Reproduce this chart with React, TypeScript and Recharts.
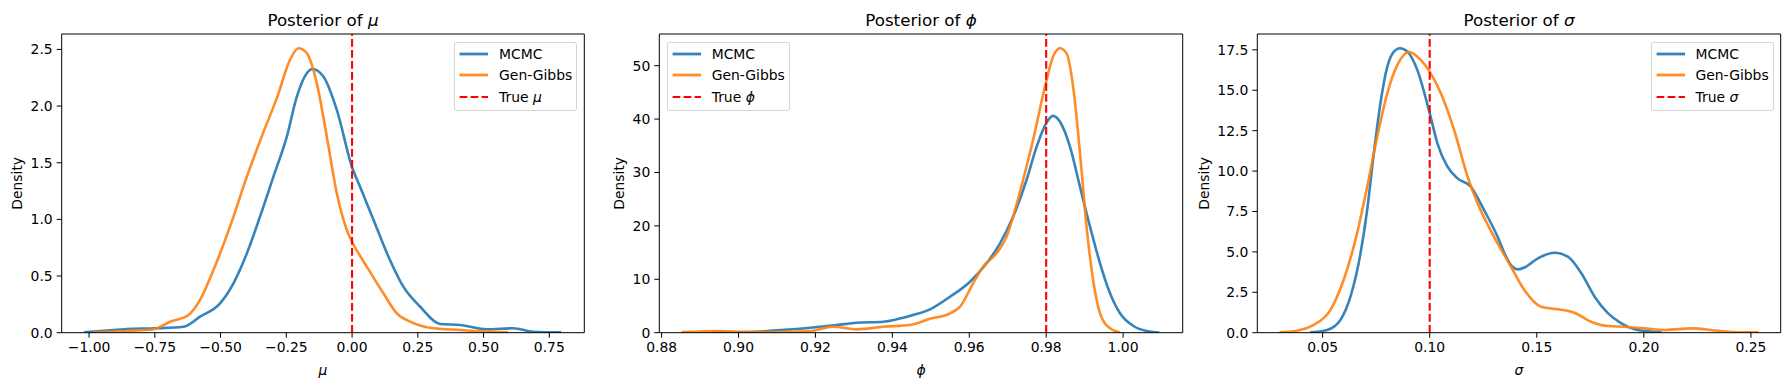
import React from "react";
import { LineChart, Line, XAxis, YAxis, ReferenceLine, Legend } from "recharts";

const FONT = "'DejaVu Sans', sans-serif";
const BLUE = "#1f77b4";
const ORANGE = "#ff7f0e";
const RED = "#ff0000";

const seriesNames = ["MCMC", "Gen-Gibbs"];

// posterior of mu
const muMcmc = [
	[-1.019, 0.003], [-0.93, 0.02], [-0.857, 0.033], [-0.743, 0.039], [-0.641, 0.053],
	[-0.578, 0.141], [-0.502, 0.259], [-0.451, 0.436], [-0.4, 0.7], [-0.35, 1.024],
	[-0.299, 1.377], [-0.248, 1.73], [-0.21, 2.083], [-0.172, 2.29], [-0.151, 2.327],
	[-0.109, 2.26], [-0.058, 1.966], [0, 1.46], [0.03, 1.29], [0.081, 1.0],
	[0.144, 0.642], [0.195, 0.406], [0.259, 0.229], [0.335, 0.077], [0.411, 0.068],
	[0.512, 0.03], [0.613, 0.039], [0.689, 0.009], [0.795, 0.003],
];
const muGibbs = [
	[-0.984, 0.003], [-0.857, 0.015], [-0.755, 0.03], [-0.692, 0.097], [-0.622, 0.156],
	[-0.578, 0.289], [-0.527, 0.553], [-0.464, 0.936], [-0.4, 1.377], [-0.337, 1.77],
	[-0.286, 2.07], [-0.236, 2.407], [-0.204, 2.51], [-0.172, 2.466], [-0.134, 2.2],
	[-0.096, 1.73], [-0.058, 1.23], [-0.02, 0.906], [0, 0.8], [0.03, 0.68],
	[0.056, 0.583], [0.119, 0.348], [0.17, 0.171], [0.221, 0.097], [0.309, 0.039],
	[0.411, 0.024], [0.512, 0.01], [0.594, 0.003],
];

// posterior of phi
const phiMcmc = [
	[0.893, 0.1], [0.9047, 0.19], [0.9108, 0.5], [0.9186, 0.94], [0.9255, 1.44],
	[0.9307, 1.87], [0.9376, 2.06], [0.9411, 2.5], [0.9454, 3.31], [0.9498, 4.38],
	[0.955, 6.74], [0.9602, 9.55], [0.9645, 13.0], [0.968, 16.74], [0.9714, 21.7],
	[0.9749, 28.6], [0.9775, 34.8], [0.98, 39.2], [0.9817, 40.6], [0.9836, 39.5],
	[0.9862, 34.8], [0.9888, 27.3], [0.9914, 19.85], [0.994, 13.0], [0.9966, 7.38],
	[0.9992, 3.63], [1.0027, 1.25], [1.0061, 0.32], [1.0094, 0.05],
];
const phiGibbs = [
	[0.8852, 0.1], [0.8952, 0.32], [0.9004, 0.1], [0.9108, 0.1], [0.9186, 0.3],
	[0.9246, 1.12], [0.9307, 0.63], [0.9376, 1.12], [0.9446, 1.44], [0.9498, 2.6],
	[0.955, 3.63], [0.9576, 4.87], [0.961, 9.25], [0.9636, 12.36], [0.9671, 14.87],
	[0.9697, 17.98], [0.9714, 21.7], [0.974, 28.6], [0.9766, 36.1], [0.9799, 46.7],
	[0.9818, 51.7], [0.9836, 53.26], [0.9853, 52.3], [0.987, 46.1], [0.9888, 33.6],
	[0.9905, 19.85], [0.9922, 9.87], [0.994, 3.63], [0.9966, 0.82], [0.9992, 0.05],
];

// posterior of sigma
const sigmaMcmc = [
	[0.0442, 0.02], [0.0521, 0.17], [0.0583, 0.79], [0.063, 2.23], [0.0677, 4.91],
	[0.0708, 7.59], [0.0739, 11.1], [0.077, 14.2], [0.0802, 16.46], [0.0833, 17.39],
	[0.0861, 17.6], [0.0896, 17.39], [0.0942, 16.26], [0.1, 13.58], [0.1036, 11.72],
	[0.1083, 10.27], [0.113, 9.55], [0.1192, 9.03], [0.1254, 7.59], [0.1317, 5.94],
	[0.1355, 4.75], [0.1385, 4.1], [0.1414, 3.92], [0.1445, 4.05], [0.1505, 4.6],
	[0.1583, 4.95], [0.1645, 4.7], [0.1708, 3.68], [0.177, 2.23], [0.1833, 1.2],
	[0.1895, 0.58], [0.1957, 0.21], [0.202, 0.08], [0.2082, 0.02],
];
const sigmaGibbs = [
	[0.0299, 0.02], [0.038, 0.12], [0.0458, 0.48], [0.0536, 1.4], [0.0598, 3.26],
	[0.0661, 6.15], [0.0708, 9.03], [0.0755, 12.13], [0.0802, 14.81], [0.0849, 16.57],
	[0.0903, 17.37], [0.0958, 16.88], [0.1, 16.15], [0.1052, 14.81], [0.1114, 12.54],
	[0.1177, 9.65], [0.1224, 8.0], [0.1286, 6.3], [0.138, 4.08], [0.1442, 2.64],
	[0.152, 1.61], [0.1598, 1.45], [0.1676, 1.24], [0.1754, 0.68], [0.1833, 0.41],
	[0.1911, 0.37], [0.2004, 0.27], [0.2098, 0.17], [0.2223, 0.27], [0.2348, 0.12],
	[0.2442, 0.03], [0.2536, 0.02],
];

const trueValues = [0.0, 0.98, 0.1];

const muXTicks = [-1.0, -0.75, -0.5, -0.25, 0.0, 0.25, 0.5, 0.75];
const muYTicks = [0, 0.5, 1.0, 1.5, 2.0, 2.5];
const phiXTicks = [0.88, 0.9, 0.92, 0.94, 0.96, 0.98, 1.0];
const phiYTicks = [0, 10, 20, 30, 40, 50];
const sigmaXTicks = [0.05, 0.1, 0.15, 0.2, 0.25];
const sigmaYTicks = [0, 2.5, 5.0, 7.5, 10.0, 12.5, 15.0, 17.5];

const toRows = (pts: number[][]) => pts.map(([x, y]) => ({ x, y }));
const fmt = (digits: number) => (v: number) =>
	v.toFixed(digits).replace("-", "\u2212");

const PLOT_TOP = 34;
const PLOT_BOTTOM = 332.7;
const CH = 390;

function AxisText({ x, y, rotate, children }: any) {
	return (
		<text
			x={x}
			y={y}
			textAnchor="middle"
			dominantBaseline="central"
			transform={rotate ? `rotate(-90, ${x}, ${y})` : undefined}
			fontFamily={FONT}
			fontSize={13.9}
			fill="#000"
		>
			{children}
		</text>
	);
}

function LegendBox({ symbol }: { symbol: string }) {
	const rows = [
		{ label: seriesNames[0], color: BLUE, dash: undefined, top: 11.6 },
		{ label: seriesNames[1], color: ORANGE, dash: undefined, top: 32.8 },
		{ label: "True", color: RED, dash: "7.7 3.3", top: 54.6 },
	];
	return (
		<div
			style={{
				position: "relative",
				width: 123,
				height: 69,
				boxSizing: "border-box",
				border: "1px solid rgba(204,204,204,0.8)",
				borderRadius: 3,
				background: "rgba(255,255,255,0.8)",
				fontFamily: FONT,
				fontSize: 13.9,
				color: "#000",
			}}
		>
			{rows.map((r, i) => (
				<div
					key={i}
					style={{
						position: "absolute",
						left: 0,
						top: r.top - 9,
						height: 18,
						display: "flex",
						alignItems: "center",
						whiteSpace: "nowrap",
					}}
				>
					<svg width={44} height={18} style={{ display: "block" }}>
						<line
							x1={4.6}
							x2={33}
							y1={9}
							y2={9}
							stroke={r.color}
							strokeWidth={r.dash ? 2.1 : 2.8}
							strokeOpacity={r.dash ? 1 : 0.9}
							strokeDasharray={r.dash}
						/>
					</svg>
					<span style={{ lineHeight: "18px" }}>
						{r.label}
						{r.dash ? (
							<>
								{" "}
								<i>{symbol}</i>
							</>
						) : null}
					</span>
				</div>
			))}
		</div>
	);
}

type PanelProps = {
	left: number;
	width: number;
	plotLeft: number;
	plotRight: number;
	symbol: string;
	truth: number;
	xDomain: number[];
	yDomain: number[];
	xTicks: number[];
	yTicks: number[];
	xDigits: number;
	yDigits: number;
	mcmc: number[][];
	gibbs: number[][];
	legendLeft: boolean;
	densityDx: number;
};

function Panel(p: PanelProps) {
	const yw = 55;
	const xh = 50;
	const margin = {
		top: PLOT_TOP,
		right: p.width - p.plotRight,
		bottom: CH - PLOT_BOTTOM - xh,
		left: p.plotLeft - yw,
	};
	const legendX = p.legendLeft ? p.plotLeft + 7.4 : p.plotRight - 7.2 - 123;
	const midY = (PLOT_TOP + PLOT_BOTTOM) / 2;
	const midX = (p.plotLeft + p.plotRight) / 2;
	const tickStyle = { fill: "#000", fontSize: 13.9, fontFamily: FONT };

	return (
		<div style={{ position: "absolute", left: p.left, top: 0, width: p.width, height: CH }}>
			<div
				style={{
					position: "absolute",
					left: p.plotLeft - 50,
					width: p.plotRight - p.plotLeft + 100,
					top: 10,
					height: 20,
					lineHeight: "20px",
					textAlign: "center",
					fontFamily: FONT,
					fontSize: 16.7,
					color: "#000",
				}}
			>
				Posterior of <i>{p.symbol}</i>
			</div>
			<LineChart width={p.width} height={CH} margin={margin}>
				<XAxis
					dataKey="x"
					type="number"
					domain={p.xDomain}
					allowDataOverflow
					ticks={p.xTicks}
					interval={0}
					tickFormatter={fmt(p.xDigits)}
					tickSize={5}
					tickMargin={4}
					height={xh}
					stroke="#000"
					tick={tickStyle}
					label={{
						content: () => (
							<AxisText x={midX} y={370}>
								<tspan fontStyle="italic">{p.symbol}</tspan>
							</AxisText>
						),
					}}
				/>
				<YAxis
					type="number"
					domain={p.yDomain}
					allowDataOverflow
					ticks={p.yTicks}
					interval={0}
					tickFormatter={fmt(p.yDigits)}
					tickSize={5}
					tickMargin={4}
					width={yw}
					stroke="#000"
					tick={tickStyle}
					label={{
						content: () => (
							<AxisText x={p.plotLeft + p.densityDx} y={midY} rotate>
								Density
							</AxisText>
						),
					}}
				/>
				<Line
					data={toRows(p.mcmc)}
					dataKey="y"
					name={seriesNames[0]}
					type="monotone"
					stroke={BLUE}
					strokeOpacity={0.9}
					strokeWidth={2.6}
					dot={false}
					activeDot={false}
					isAnimationActive={false}
				/>
				<Line
					data={toRows(p.gibbs)}
					dataKey="y"
					name={seriesNames[1]}
					type="monotone"
					stroke={ORANGE}
					strokeOpacity={0.9}
					strokeWidth={2.6}
					dot={false}
					activeDot={false}
					isAnimationActive={false}
				/>
				<ReferenceLine
					x={p.truth}
					stroke={RED}
					strokeWidth={2.1}
					strokeDasharray="7.7 3.3"
				/>
				{/* top and right spines */}
				<ReferenceLine y={p.yDomain[1]} stroke="#000" strokeWidth={1} />
				<ReferenceLine x={p.xDomain[1]} stroke="#000" strokeWidth={1} />
				<Legend
					layout="vertical"
					align="center"
					verticalAlign="middle"
					wrapperStyle={{ left: legendX, top: 41.7, width: 123 }}
					content={() => <LegendBox symbol={p.symbol} />}
				/>
			</LineChart>
		</div>
	);
}

export default function App() {
	return (
		<div
			style={{
				position: "absolute",
				left: 0,
				top: 0,
				width: 1790,
				height: CH,
				background: "#fff",
				overflow: "hidden",
			}}
		>
			<Panel
				left={0}
				width={600}
				plotLeft={61.7}
				plotRight={584.3}
				symbol="μ"
				truth={trueValues[0]}
				xDomain={[-1.104, 0.883]}
				yDomain={[0, 2.636]}
				xTicks={muXTicks}
				yTicks={muYTicks}
				xDigits={2}
				yDigits={1}
				mcmc={muMcmc}
				gibbs={muGibbs}
				legendLeft={false}
				densityDx={-45}
			/>
			<Panel
				left={600}
				width={600}
				plotLeft={59.3}
				plotRight={582.7}
				symbol="ϕ"
				truth={trueValues[1]}
				xDomain={[0.8794, 1.0155]}
				yDomain={[0, 55.93]}
				xTicks={phiXTicks}
				yTicks={phiYTicks}
				xDigits={2}
				yDigits={0}
				mcmc={phiMcmc}
				gibbs={phiGibbs}
				legendLeft={true}
				densityDx={-40}
			/>
			<Panel
				left={1180}
				width={610}
				plotLeft={77.3}
				plotRight={600.7}
				symbol="σ"
				truth={trueValues[2]}
				xDomain={[0.0195, 0.2639]}
				yDomain={[0, 18.48]}
				xTicks={sigmaXTicks}
				yTicks={sigmaYTicks}
				xDigits={2}
				yDigits={1}
				mcmc={sigmaMcmc}
				gibbs={sigmaGibbs}
				legendLeft={false}
				densityDx={-53}
			/>
		</div>
	);
}
